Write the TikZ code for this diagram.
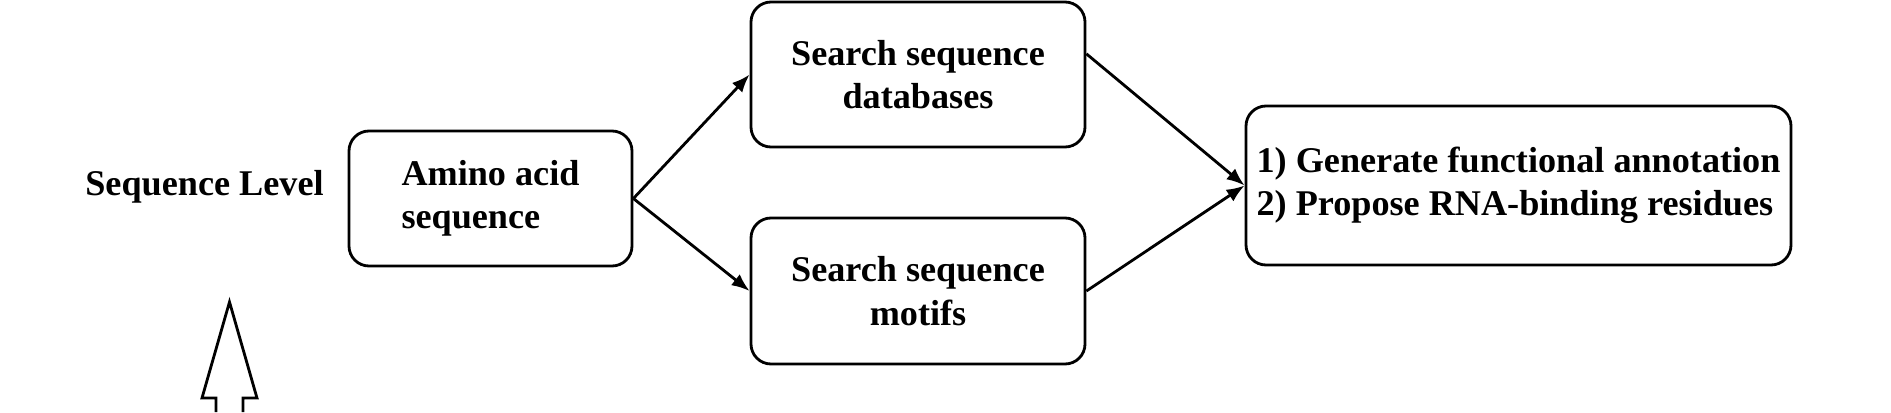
\documentclass[tikz,border=0pt]{standalone}
\usepackage{fontspec}
\setmainfont{Liberation Serif}
\usetikzlibrary{arrows.meta}

\begin{document}
\begin{tikzpicture}[
    box/.style={rectangle, rounded corners=2mm, draw=black, thick, align=center, font=\fontsize{10.3}{12.3}\selectfont\bfseries},
    arrow/.style={-{Latex[length=1.8mm,width=1.4mm]}, thick, draw=black}
]
    \useasboundingbox (0,0) rectangle (18.91,4.12);

    \node[font=\fontsize{10.3}{12.3}\selectfont\bfseries] (lvl) at (2.045,2.25) {Sequence Level};
    \node[box, align=left, minimum width=2.83cm, minimum height=1.35cm] (amino) at (4.905,2.135) {Amino acid\\sequence};
    \node[box, minimum width=3.34cm, minimum height=1.45cm] (db) at (9.18,3.375) {Search sequence\\databases};
    \node[box, minimum width=3.34cm, minimum height=1.46cm] (motif) at (9.18,1.21) {Search sequence\\motifs};
    \node[box, align=left, inner xsep=0pt, minimum width=5.45cm, minimum height=1.59cm] (res) at (15.185,2.265) {1) Generate functional annotation\\2) Propose RNA-binding residues};

    \draw[arrow] (amino.east) -- (db.west);
    \draw[arrow] (amino.east) -- (motif.west);
    \draw[arrow] (db.7) -- (res.west);
    \draw[arrow] (motif.east) -- (res.west);

    % hollow arrow at the bottom
    \draw[thick, line join=miter] (2.16,0) -- (2.16,0.14) -- (2.02,0.14) -- (2.295,1.10) -- (2.57,0.14) -- (2.43,0.14) -- (2.43,0);
\end{tikzpicture}
\end{document}
